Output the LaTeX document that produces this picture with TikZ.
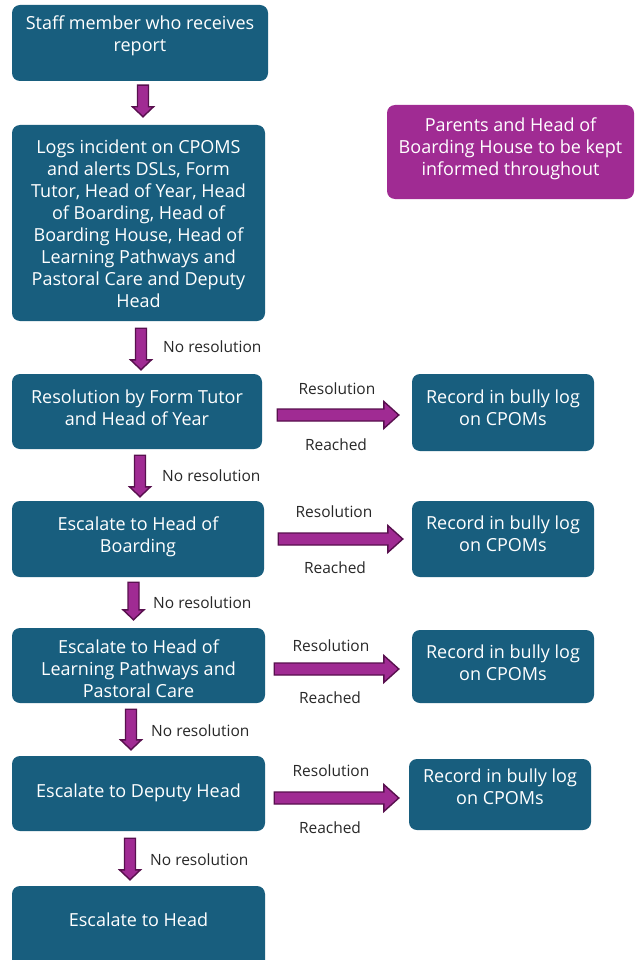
\documentclass[tikz,border=0pt]{standalone}
\usepackage{fontspec}
\setmainfont{Open Sans}
\usetikzlibrary{calc}
\definecolor{boxblue}{RGB}{24,94,126}
\definecolor{boxpurple}{RGB}{160,43,147}
\definecolor{arrfill}{RGB}{160,43,147}
\definecolor{arrline}{RGB}{88,16,78}
\definecolor{labelgray}{RGB}{40,40,40}
\newcommand\blockarr[5]{%
  \coordinate (bh) at ($(#2)!#5!(#1)$);
  \filldraw[arrowsty] ($(#1)!#3!90:(#2)$) -- ($(bh)!#3!90:(#2)$) -- ($(bh)!#4!90:(#2)$) -- (#2)
    -- ($(bh)!#4!-90:(#2)$) -- ($(bh)!#3!-90:(#2)$) -- ($(#1)!#3!-90:(#2)$) -- cycle;}
% box text: lines centred, shifted up by #1
\newcommand\bt[2]{\raisebox{#1}[\height][\depth]{\begin{tabular}{@{}c@{}}#2\end{tabular}}}
\begin{document}
\begin{tikzpicture}[x=1pt,y=-1pt,
  box/.style={fill=boxblue, draw=none, rounded corners=8pt, text=white,
    inner sep=2pt, font=\fontsize{18}{22}\selectfont},
  pbox/.style={box, fill=boxpurple},
  lab/.style={text=labelgray, inner sep=0pt, font=\fontsize{15.5}{18}\selectfont},
  arrowsty/.style={fill=arrfill, draw=arrline, line width=1.4pt, line join=miter}]
\path[use as bounding box] (0,0) rectangle (634,960);
\clip (0,0) rectangle (634,960);
\fill[white] (0,0) rectangle (634,960);

% boxes
\node[box, minimum width=256pt, minimum height=76pt] (b1) at (140,43) {\bt{-4pt}{Staff member who receives\\report\\\mbox{}}};
\node[box, minimum width=253pt, minimum height=196pt] (b2) at (138.5,223) {\bt{-3pt}{Logs incident on CPOMS\\and alerts DSLs, Form\\Tutor, Head of Year, Head\\of Boarding, Head of\\Boarding House, Head of\\Learning Pathways and\\Pastoral Care and Deputy\\Head}};
\node[pbox, minimum width=247pt, minimum height=94pt] (bp) at (510.5,152) {\bt{3pt}{Parents and Head of\\Boarding House to be kept\\informed throughout}};
\node[box, minimum width=250pt, minimum height=75pt] (b3) at (137,411.5) {\bt{1pt}{Resolution by Form Tutor\\and Head of Year}};
\node[box, minimum width=182pt, minimum height=77pt] (r1) at (503,412.5) {\bt{2pt}{Record in bully log\\on CPOMs}};
\node[box, minimum width=252pt, minimum height=76pt] (b4) at (138,539) {\bt{2pt}{Escalate to Head of\\Boarding}};
\node[box, minimum width=182pt, minimum height=76pt] (r2) at (503,539) {\bt{2.5pt}{Record in bully log\\on CPOMs}};
\node[box, minimum width=253pt, minimum height=75pt] (b5) at (138.5,665.5) {\bt{-6pt}{Escalate to Head of\\Learning Pathways and\\Pastoral Care}};
\node[box, minimum width=182pt, minimum height=73pt] (r3) at (503,666.5) {\bt{1pt}{Record in bully log\\on CPOMs}};
\node[box, minimum width=253pt, minimum height=75pt] (b6) at (138.5,793.5) {\bt{0pt}{Escalate to Deputy Head}};
\node[box, minimum width=182pt, minimum height=71pt] (r4) at (500,794.5) {\bt{5pt}{Record in bully log\\on CPOMs}};
\node[box, minimum width=253pt, minimum height=82pt] (b7) at (138.5,927) {\bt{5pt}{Escalate to Head}};

% vertical arrows
\coordinate (v1s) at ($(b1.south)+(3,4)$);   \coordinate (v1e) at ($(b2.north)+(4.5,-8)$);
\coordinate (v2s) at ($(b2.south)+(2.5,7)$); \coordinate (v2e) at ($(b3.north)+(4,-4)$);
\coordinate (v3s) at ($(b3.south)+(3,6)$);   \coordinate (v3e) at ($(b4.north)+(2,-4)$);
\coordinate (v4s) at ($(b4.south)+(-4.5,5)$);\coordinate (v4e) at ($(b5.north)+(-5,-8)$);
\coordinate (v5s) at ($(b5.south)+(-7.5,6)$);\coordinate (v5e) at ($(b6.north)+(-7.5,-6)$);
\coordinate (v6s) at ($(b6.south)+(-8.5,7)$);\coordinate (v6e) at ($(b7.north)+(-8.5,-6)$);
\blockarr{v1s}{v1e}{5.5pt}{10.5pt}{10pt}
\blockarr{v2s}{v2e}{5.5pt}{10.5pt}{10pt}
\blockarr{v3s}{v3e}{5.5pt}{10.5pt}{10pt}
\blockarr{v4s}{v4e}{5.5pt}{10.5pt}{10pt}
\blockarr{v5s}{v5e}{5.5pt}{10.5pt}{10pt}
\blockarr{v6s}{v6e}{5.5pt}{10.5pt}{10pt}

% horizontal arrows
\coordinate (h1s) at ($(b3.east)+(15,3.5)$); \coordinate (h1e) at ($(r1.west)+(-13,2.5)$);
\coordinate (h2s) at ($(b4.east)+(14,0)$);   \coordinate (h2e) at ($(r2.west)+(-9,0)$);
\coordinate (h3s) at ($(b5.east)+(9,3.5)$);  \coordinate (h3e) at ($(r3.west)+(-13,2.5)$);
\coordinate (h4s) at ($(b6.east)+(9,4.5)$);  \coordinate (h4e) at ($(r4.west)+(-10,3.5)$);
\blockarr{h1s}{h1e}{6pt}{13.5pt}{15pt}
\blockarr{h2s}{h2e}{6pt}{13.5pt}{15pt}
\blockarr{h3s}{h3e}{6pt}{13.5pt}{15pt}
\blockarr{h4s}{h4e}{6pt}{13.5pt}{15pt}

% labels
\node[lab, anchor=west] (n1) at (163,347) {No resolution};
\node[lab, anchor=west] (n2) at (162,476) {No resolution};
\node[lab, anchor=west] (n3) at (153,603) {No resolution};
\node[lab, anchor=west] (n4) at (151,731) {No resolution};
\node[lab, anchor=west] (n5) at (150,860) {No resolution};
\node[lab] (res1) at (337,389) {Resolution};
\node[lab] (rea1) at (336,445) {Reached};
\node[lab] (res2) at (334,512) {Resolution};
\node[lab] (rea2) at (335,568) {Reached};
\node[lab] (res3) at (331,646) {Resolution};
\node[lab] (rea3) at (330,698) {Reached};
\node[lab] (res4) at (331,771) {Resolution};
\node[lab] (rea4) at (330,828) {Reached};
\end{tikzpicture}
\end{document}
